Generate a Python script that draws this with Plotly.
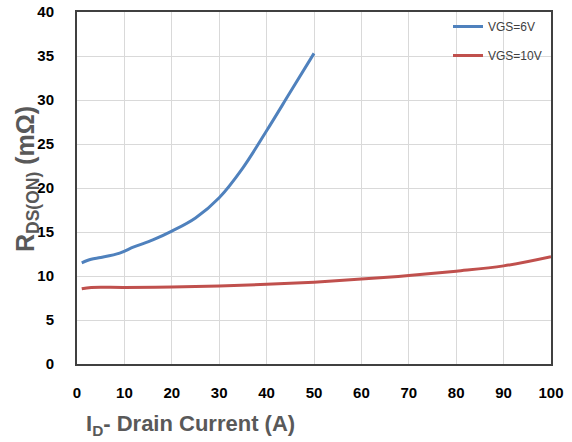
import plotly.graph_objects as go

x6 = [1, 3, 5, 9, 12, 16, 20, 25, 30, 35, 40, 45, 50]
y6 = [11.5, 11.9, 12.1, 12.6, 13.3, 14.1, 15.1, 16.6, 18.9, 22.3, 26.5, 30.9, 35.3]
x10 = [1, 3, 10, 20, 30, 40, 50, 60, 70, 80, 90, 100]
y10 = [8.55, 8.7, 8.7, 8.75, 8.85, 9.05, 9.3, 9.65, 10.05, 10.55, 11.15, 12.2]
names = ["VGS=6V", "VGS=10V"]
xticks = [0, 10, 20, 30, 40, 50, 60, 70, 80, 90, 100]
yticks = [0, 5, 10, 15, 20, 25, 30, 35, 40]

FONT = "Liberation Sans, Arial"
L, R, T, B = 77, 21, 12, 78
PW, PH = 572 - L - R, 442 - T - B

fig = go.Figure()
fig.add_trace(go.Scatter(x=x6, y=y6, mode="lines", name=names[0], legendgroup="a",
                         line=dict(color="#4F81BD", width=3, shape="spline")))
fig.add_trace(go.Scatter(x=x10, y=y10, mode="lines", name=names[1], legendgroup="b",
                         line=dict(color="#C0504D", width=3, shape="spline")))

fig.update_layout(
    width=572, height=442,
    margin=dict(l=L, r=R, t=T, b=B),
    paper_bgcolor="white", plot_bgcolor="white",
    font=dict(family=FONT, color="black"),
    legend=dict(x=1 - 4 / PW, y=1, xanchor="right", yanchor="top",
                bgcolor="rgba(0,0,0,0)", font=dict(size=12, color="#404040"),
                tracegroupgap=10, itemwidth=30),
    xaxis=dict(range=[0, 100], tickvals=xticks, showgrid=True, gridcolor="#D9D9D9",
               gridwidth=1, showline=True, linecolor="#404040", linewidth=2, mirror=True,
               ticks="", ticklabelstandoff=14, zeroline=False, automargin=False,
               tickfont=dict(size=15, family=FONT, weight="bold", color="black")),
    yaxis=dict(range=[0, 40], tickvals=yticks, showgrid=True, gridcolor="#D9D9D9",
               gridwidth=1, showline=True, linecolor="#404040", linewidth=2, mirror=True,
               ticks="", ticklabelstandoff=18, zeroline=False, automargin=False,
               tickfont=dict(size=15, family=FONT, weight="bold", color="black")),
)
fig.add_annotation(text="R<sub>DS(ON)</sub> (mΩ)", xref="paper", yref="paper",
                   x=-(L - 27) / PW, y=1 - (179 - T) / PH, xanchor="center", yanchor="middle",
                   textangle=-90, showarrow=False,
                   font=dict(size=25, family=FONT, weight="bold", color="#595959"))
fig.add_annotation(text="I<sub>D</sub>- Drain Current (A)", xref="paper", yref="paper",
                   x=(190 - L) / PW, y=-(425 - (442 - B)) / PH, xanchor="center", yanchor="middle",
                   showarrow=False,
                   font=dict(size=22, family=FONT, weight="bold", color="#595959"))

fig.write_html("out.html")
